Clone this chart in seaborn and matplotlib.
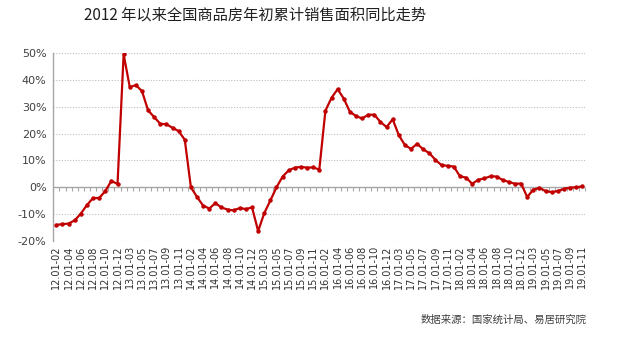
import numpy as np
import pandas as pd
import matplotlib
matplotlib.use("Agg")
import matplotlib.pyplot as plt
import seaborn as sns

# ---------------- data ----------------
years = ["12", "13", "14", "15", "16", "17", "18", "19"]
periods = ["01-02", "01-03", "01-04", "01-05", "01-06", "01-07",
           "01-08", "01-09", "01-10", "01-11", "01-12"]

v2012 = [-14.0, -13.7, -13.5, -12.3, -9.8, -6.6, -4.0, -4.0, -1.4, 2.4, 1.2]
v2013 = [49.5, 37.3, 38.0, 35.8, 28.6, 26.1, 23.6, 23.5, 22.1, 20.9, 17.7]
v2014 = [0.0, -3.6, -6.8, -7.9, -5.9, -7.5, -8.3, -8.6, -7.7, -8.1, -7.5]
v2015 = [-16.3, -9.6, -4.9, 0.0, 4.0, 6.3, 7.3, 7.6, 7.3, 7.4, 6.6]
v2016 = [28.5, 33.3, 36.5, 33.0, 28.1, 26.5, 25.6, 27.0, 27.0, 24.3, 22.4]
v2017 = [25.3, 19.4, 15.7, 14.3, 16.2, 14.1, 12.7, 10.2, 8.2, 8.0, 7.7]
v2018 = [4.1, 3.6, 1.3, 2.8, 3.3, 4.1, 4.0, 2.7, 2.0, 1.3, 1.4]
v2019 = [-3.6, -0.9, -0.2, -1.4, -1.8, -1.4, -0.6, -0.1, 0.0, 0.3]

yearly = [v2012, v2013, v2014, v2015, v2016, v2017, v2018, v2019]
categories = []
values = []
for y, vals in zip(years, yearly):
    for p, v in zip(periods, vals):
        categories.append(f"{y}.{p}")
        values.append(v)

y_ticks = [-20, -10, 0, 10, 20, 30, 40, 50]
title = "2012 年以来全国商品房年初累计销售面积同比走势"
source = "数据来源：国家统计局、易居研究院"

# ---------------- plot ----------------
sns.set_theme(style="white")
plt.rcParams["font.family"] = ["DejaVu Sans", "Noto Sans CJK SC"]

n = len(values)
df = pd.DataFrame({"idx": np.arange(n), "val": values})

fig = plt.figure(figsize=(6.2, 3.55), dpi=100)
ax = fig.add_axes([0.086, 0.321, 0.858, 0.530])

sns.lineplot(data=df, x="idx", y="val", ax=ax, color="#C00000",
             linewidth=1.6, marker="o", markersize=3.2,
             markeredgewidth=0, zorder=5)

ax.set_xlim(-0.5, n - 0.5)
ax.set_ylim(-20, 50)

# gridlines
for v in y_ticks:
    if v != 0:
        ax.axhline(v, color="#bdbdbd", linewidth=0.8,
                   linestyle=(0, (1, 1.5)), zorder=0)
ax.axhline(0, color="#a6a6a6", linewidth=1.0, zorder=1)

ax.set_yticks(y_ticks)
ax.set_yticklabels([f"{v}%" for v in y_ticks], fontsize=8, color="#404040")
ax.tick_params(axis="y", length=3, color="#a6a6a6", pad=2)

ax.set_xticks(np.arange(0, n, 2))
ax.set_xticklabels(categories[::2], rotation=90, fontsize=7,
                   color="#303030")
ax.tick_params(axis="x", length=0, pad=3)
ax.set_xlabel("")
ax.set_ylabel("")

for s in ["top", "right", "bottom"]:
    ax.spines[s].set_visible(False)
ax.spines["left"].set_color("#a6a6a6")
ax.spines["left"].set_linewidth(1.0)

# category tick marks on the 0% axis
sec = ax.secondary_xaxis(2 / 7)
sec.set_xticks(np.arange(-0.5, n, 1))
sec.tick_params(axis="x", direction="out", length=3, color="#a6a6a6",
                labelbottom=False, labeltop=False, width=0.8)
for s in sec.spines.values():
    s.set_visible(False)

fig.text(0.411, 1 - 15 / 355, title, ha="center", va="center",
         fontsize=11, color="#202020",
         family=["Noto Sans CJK SC", "DejaVu Sans"])
fig.text(587 / 620, 1 - 320 / 355, source, ha="right", va="center",
         fontsize=7.5, color="#404040",
         family=["Noto Sans CJK SC", "DejaVu Sans"])

fig.savefig("out.png", dpi=100, facecolor="white")
